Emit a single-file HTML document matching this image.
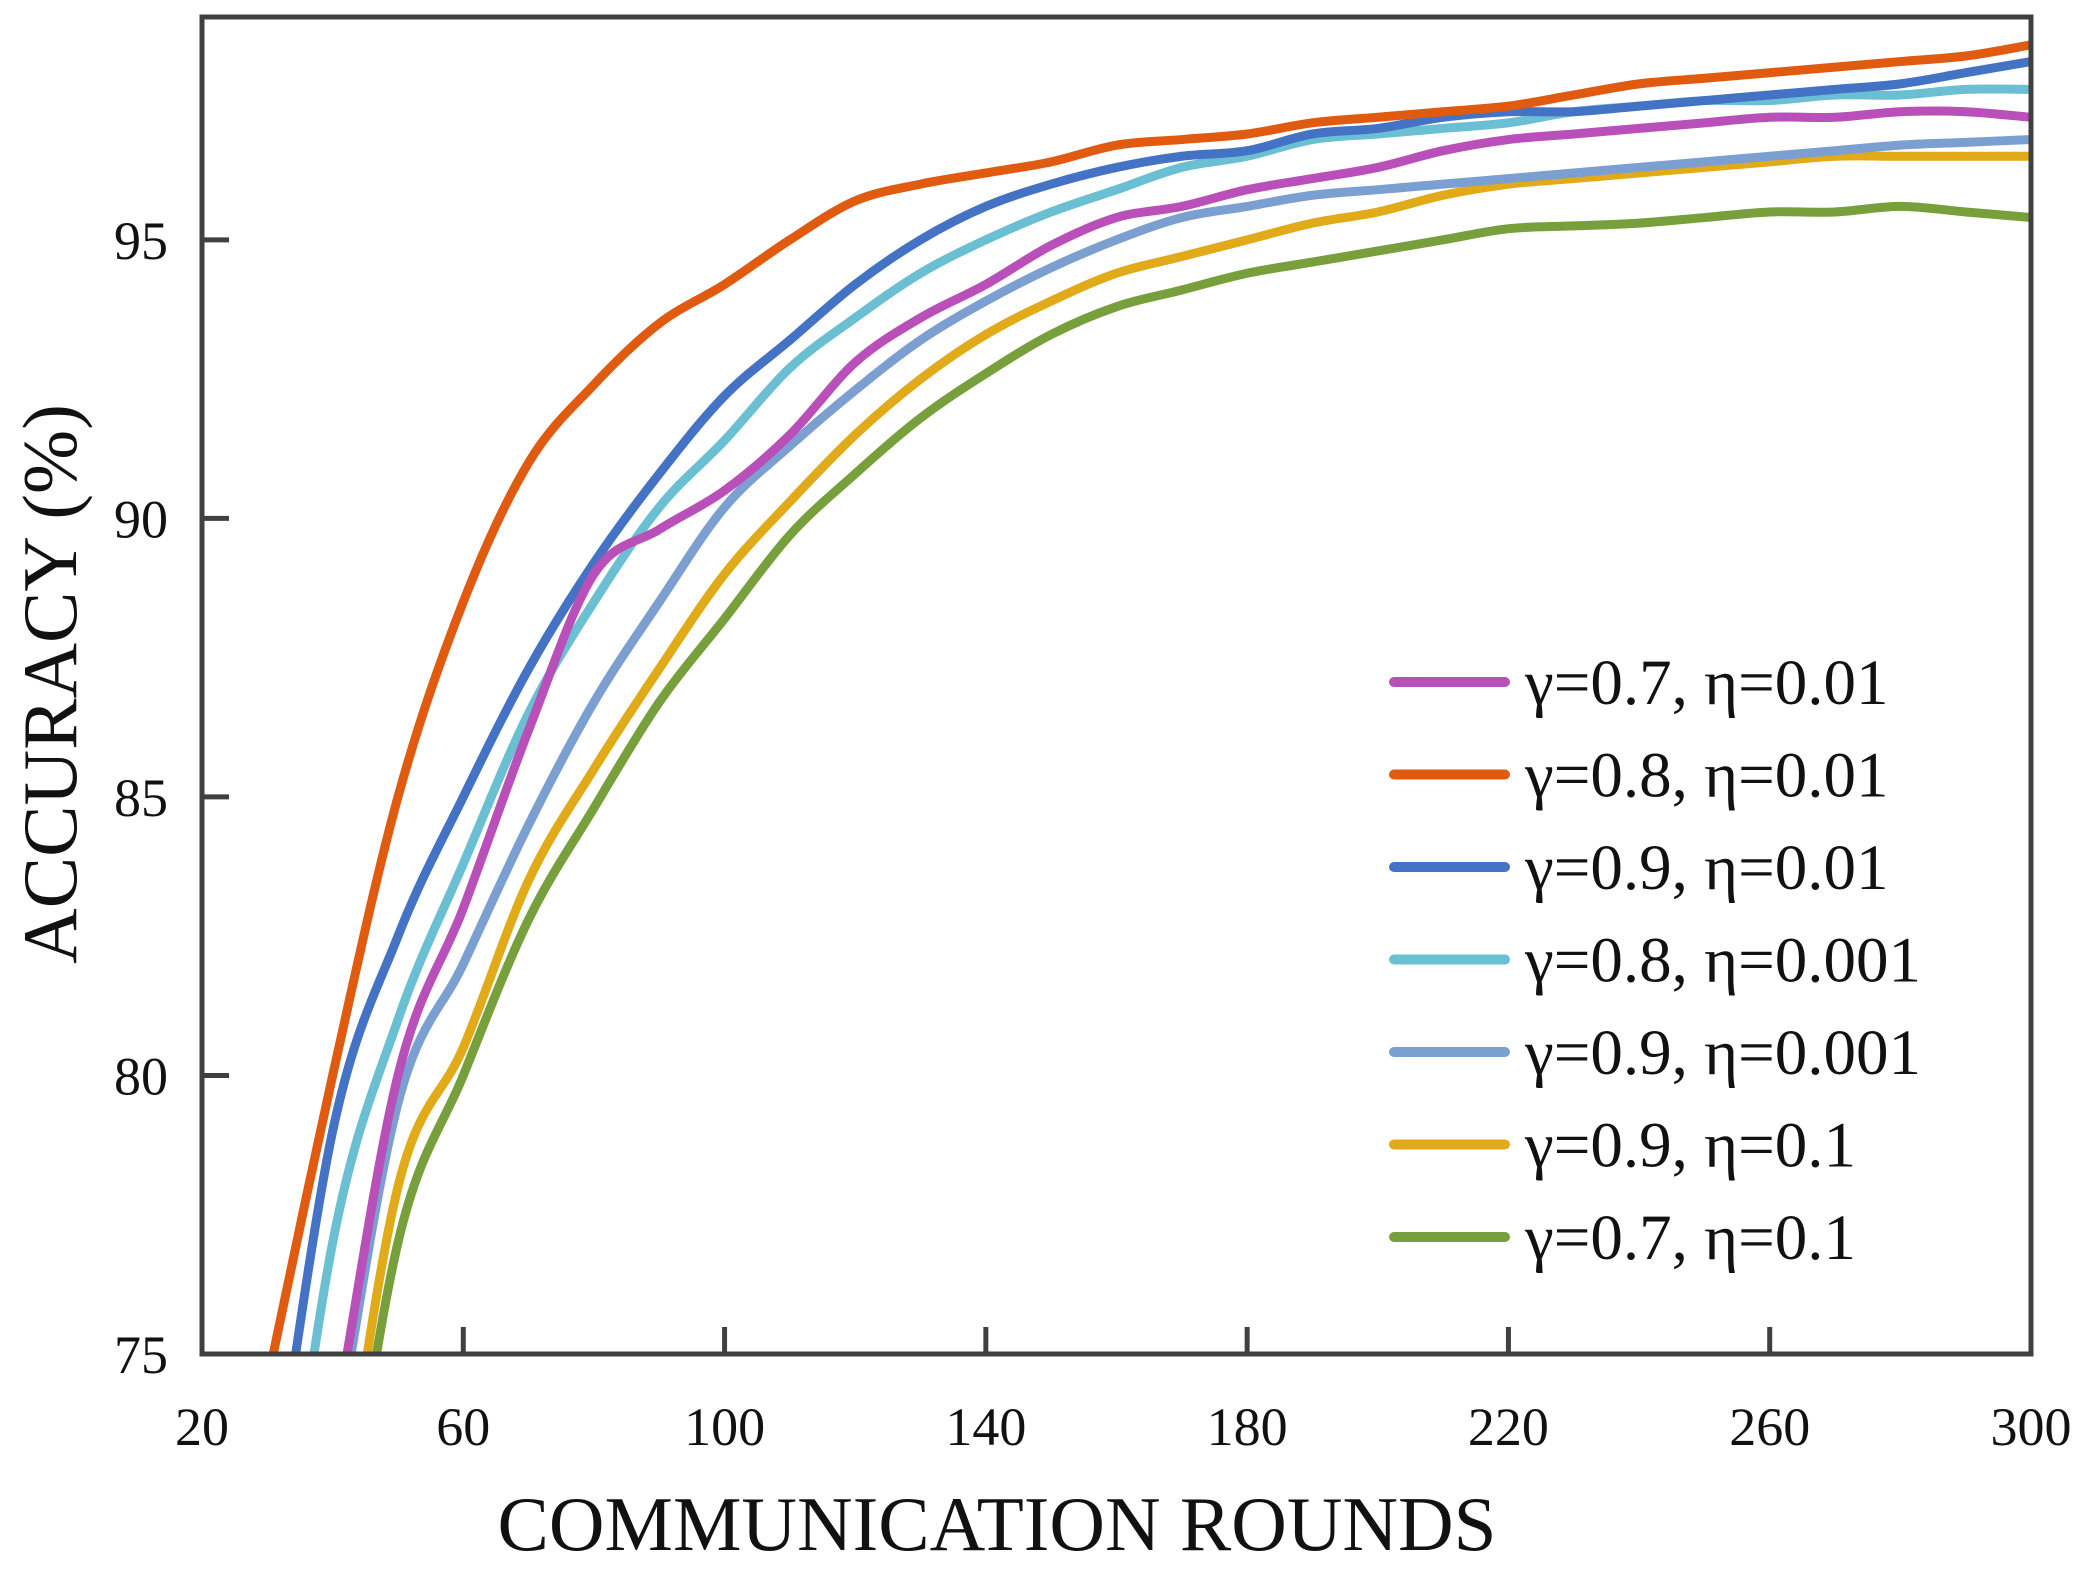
<!DOCTYPE html>
<html><head><meta charset="utf-8"><style>
html,body{margin:0;padding:0;background:#fff;overflow:hidden;width:2083px;height:1572px;}
svg{display:block;}
svg text{font-family:"Liberation Serif",serif;fill:#111;}
</style></head><body>
<svg id="chart" width="2083" height="1572" viewBox="0 0 2083 1572" xmlns="http://www.w3.org/2000/svg">
<defs><clipPath id="plotclip"><rect x="202" y="17" width="1829" height="1337"/></clipPath></defs>
<g id="series" clip-path="url(#plotclip)"></g>
<rect x="202" y="17" width="1829" height="1337" fill="none" stroke="#404040" stroke-width="5"/>
<g id="xticks"></g>
<g id="yticks"></g>
<text x="997" y="1550" font-size="77" text-anchor="middle">COMMUNICATION ROUNDS</text>
<text x="0" y="0" font-size="77" text-anchor="middle" transform="translate(76,684) rotate(-90)">ACCURACY (%)</text>
<g id="legend"></g>
</svg>
<script>
const rounds = [30,40,50,60,70,80,90,100,110,120,130,140,150,160,170,180,190,200,210,220,230,240,250,260,270,280,290,300];
const labels = ["γ=0.7, η=0.01","γ=0.8, η=0.01","γ=0.9, η=0.01","γ=0.8, η=0.001","γ=0.9, η=0.001","γ=0.9, η=0.1","γ=0.7, η=0.1"];
const colors = ["#b94fb8","#e05a10","#4472c4","#6bbfd3","#7b9fd1","#e0aa18","#77a03c"];
const sMagenta = [67,73.5,80,83,86.2,89,89.8,90.5,91.5,92.8,93.6,94.2,94.9,95.4,95.6,95.9,96.1,96.3,96.6,96.8,96.9,97,97.1,97.2,97.2,97.3,97.3,97.2];
const sOrange = [74.5,80,85,88.5,91,92.4,93.5,94.2,95,95.7,96,96.2,96.4,96.7,96.8,96.9,97.1,97.2,97.3,97.4,97.6,97.8,97.9,98,98.1,98.2,98.3,98.5];
const sBlue = [71.5,79,82.5,85,87.3,89.2,90.8,92.2,93.2,94.2,95,95.6,96,96.3,96.5,96.6,96.9,97,97.2,97.3,97.3,97.4,97.5,97.6,97.7,97.8,98,98.2];
const sCyan = [69,77,81,83.8,86.5,88.5,90.2,91.4,92.7,93.6,94.4,95,95.5,95.9,96.3,96.5,96.8,96.9,97,97.1,97.3,97.4,97.5,97.5,97.6,97.6,97.7,97.7];
const sLightBlue = [66,73,79.5,82,84.5,86.7,88.5,90.2,91.3,92.3,93.2,93.9,94.5,95,95.4,95.6,95.8,95.9,96,96.1,96.2,96.3,96.4,96.5,96.6,96.7,96.75,96.8];
const sYellow = [64,71,78,80.5,83.5,85.5,87.3,89,90.3,91.5,92.5,93.3,93.9,94.4,94.7,95,95.3,95.5,95.8,96,96.1,96.2,96.3,96.4,96.5,96.5,96.5,96.5];
const sGreen = [63,70,77,80,82.8,84.8,86.7,88.2,89.7,90.8,91.8,92.6,93.3,93.8,94.1,94.4,94.6,94.8,95,95.2,95.25,95.3,95.4,95.5,95.5,95.6,95.5,95.4];
const xTicks = [20,60,100,140,180,220,260,300];
const yTicks = [75,80,85,90,95];

const NS="http://www.w3.org/2000/svg";
const X0=202,X1=2031,Y0=1354,Y1=17;
const xMin=20,xMax=300,yMin=75,yMax=99;
function xs(v){return X0+(v-xMin)/(xMax-xMin)*(X1-X0);}
function ys(v){return Y0-(v-yMin)/(yMax-yMin)*(Y0-Y1);}
function mk(t,a){const e=document.createElementNS(NS,t);for(const k in a)e.setAttribute(k,a[k]);return e;}
const all=[sMagenta,sOrange,sBlue,sCyan,sLightBlue,sYellow,sGreen];
const names=["magenta","orange","blue","cyan","lightblue","yellow","green"];
const sg=document.getElementById('series');
for(let s=all.length-1;s>=0;s--){
  const pts=rounds.map((r,i)=>[xs(r),ys(all[s][i])]);
  let d="M"+pts[0][0]+","+pts[0][1];
  for(let i=0;i<pts.length-1;i++){
    const p0=pts[Math.max(0,i-1)],p1=pts[i],p2=pts[i+1],p3=pts[Math.min(pts.length-1,i+2)];
    const c1x=p1[0]+(p2[0]-p0[0])/6,c1y=p1[1]+(p2[1]-p0[1])/6;
    const c2x=p2[0]-(p3[0]-p1[0])/6,c2y=p2[1]-(p3[1]-p1[1])/6;
    d+=" C"+c1x+","+c1y+" "+c2x+","+c2y+" "+p2[0]+","+p2[1];
  }
  const p=mk('path',{d:d,fill:'none',stroke:colors[s],'stroke-width':9,'stroke-linejoin':'round'});
  
  
  sg.appendChild(p);
}
const xg=document.getElementById('xticks');
xTicks.forEach(v=>{
  if(v!==xMin&&v!==xMax){const l=mk('line',{x1:xs(v),x2:xs(v),y1:Y0,y2:Y0-27,stroke:'#404040','stroke-width':5});
  
  
  xg.appendChild(l);}
  const t=mk('text',{x:xs(v),y:1445,'font-size':54,'text-anchor':'middle'});
  t.textContent=v;
  
  
  xg.appendChild(t);
});
const yg=document.getElementById('yticks');
yTicks.forEach(v=>{
  if(v!==yMin){const l=mk('line',{x1:X0,x2:X0+27,y1:ys(v),y2:ys(v),stroke:'#404040','stroke-width':5});
  
  
  yg.appendChild(l);}
  const t=mk('text',{x:168,y:ys(v)+19,'font-size':54,'text-anchor':'end'});
  t.textContent=v;
  
  
  yg.appendChild(t);
});
const lg=document.getElementById('legend');
labels.forEach((lab,i)=>{
  const y=682+i*92.5;
  const g=mk('g',{});
  
  
  g.appendChild(mk('line',{x1:1394,x2:1505,y1:y,y2:y,stroke:colors[i],'stroke-width':10,'stroke-linecap':'round'}));
  const t=mk('text',{x:1525,y:y+22,'font-size':65});
  t.textContent=lab;
  g.appendChild(t);
  lg.appendChild(g);
});
</script>
</body></html>
